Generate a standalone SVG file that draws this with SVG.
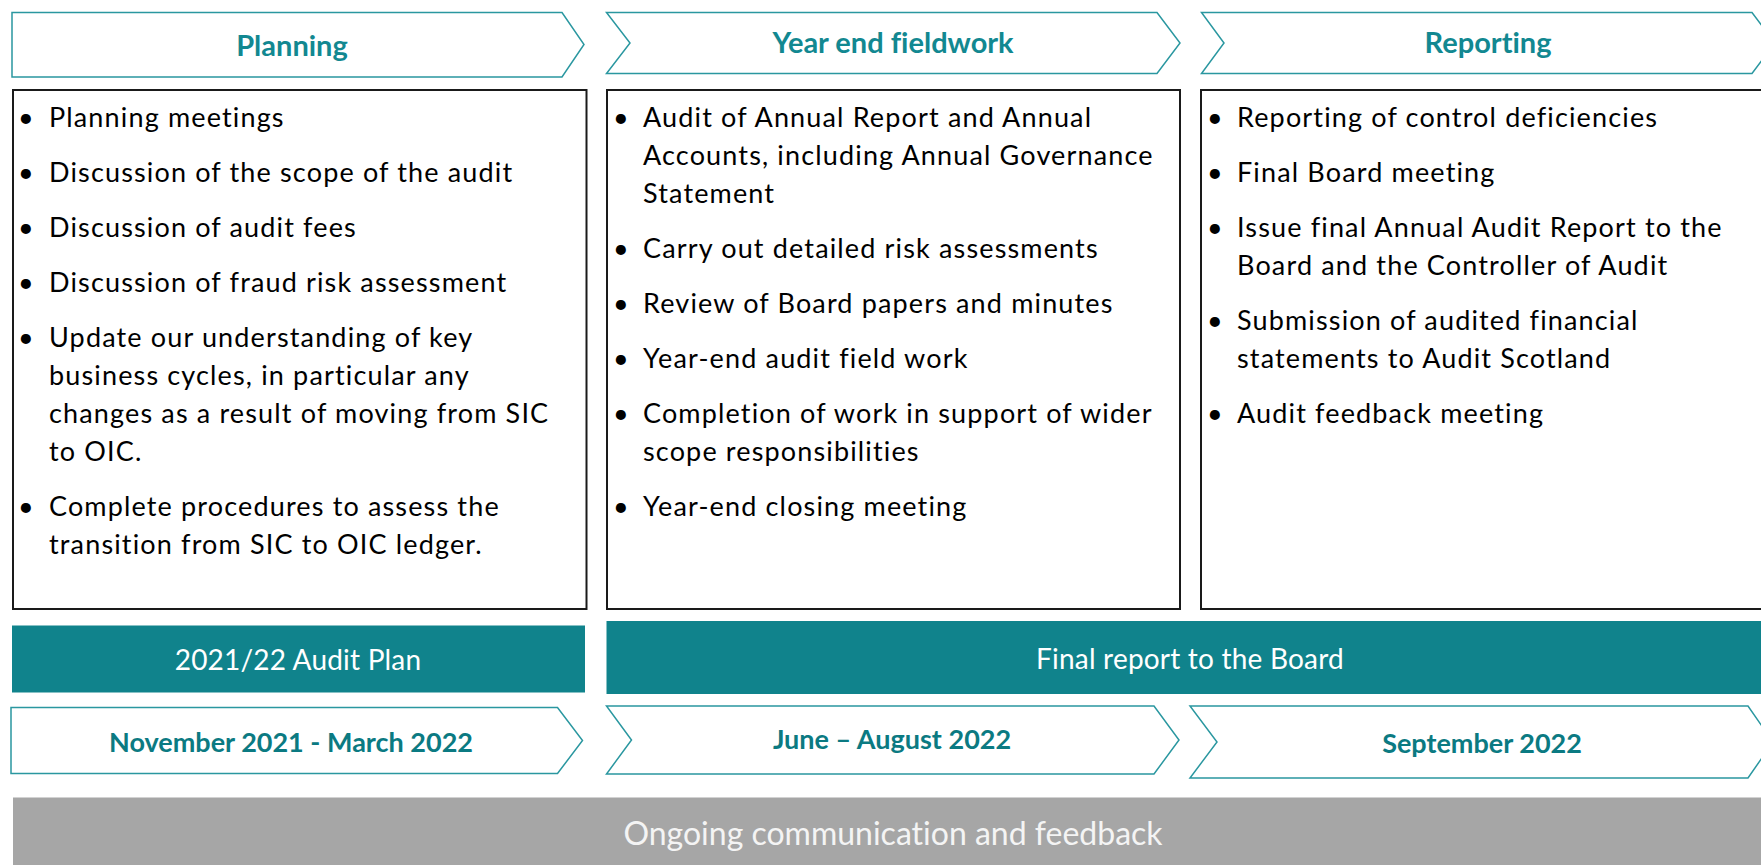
<svg xmlns="http://www.w3.org/2000/svg" width="1761" height="865" viewBox="0 0 1761 865">
<style>
text{font-variant-ligatures:none;font-feature-settings:"liga" 0}
.chev{fill:#fff;stroke:#2A97A0;stroke-width:1.5}
.box{fill:#fff;stroke:#1a1a1a;stroke-width:2}
.bar{fill:#10838C}
.gray{fill:#A6A6A6}
.head{font-family:Lato,"Liberation Sans",sans-serif;font-weight:bold;font-size:29px;fill:#128891;text-anchor:middle}
.date{font-family:Lato,"Liberation Sans",sans-serif;font-weight:bold;font-size:27px;fill:#0B7A82;text-anchor:middle}
.barl{font-family:Lato,"Liberation Sans",sans-serif;font-size:28px;letter-spacing:0.2px;fill:#fff;text-anchor:middle}
.grayl{font-family:Lato,"Liberation Sans",sans-serif;font-size:32px;fill:#F4F4F4;text-anchor:middle}
.body{font-family:Lato,"Liberation Sans",sans-serif;font-size:27px;letter-spacing:1.15px;fill:#000}
</style>
<g id="phase-planning">
<polygon class="chev" points="12,12.5 562,12.5 584,44.5 562,77 12,77"/>
<text class="head" x="292" y="56">Planning</text>
</g>
<g id="phase-fieldwork">
<polygon class="chev" points="606.5,12.5 1157,12.5 1180,43 1157,73.5 606.5,73.5 630,43"/>
<text class="head" x="893" y="53">Year end fieldwork</text>
</g>
<g id="phase-reporting">
<polygon class="chev" points="1201.5,12.5 1752,12.5 1775,43 1752,73.5 1201.5,73.5 1224,43"/>
<text class="head" x="1488" y="53">Reporting</text>
</g>
<g id="box-planning">
<rect class="box" x="13" y="90" width="573.5" height="519"/>
<g class="body">
<text x="18" y="127">•</text><text x="49" y="127">Planning meetings</text>
<text x="18" y="182">•</text><text x="49" y="182">Discussion of the scope of the audit</text>
<text x="18" y="237">•</text><text x="49" y="237">Discussion of audit fees</text>
<text x="18" y="292">•</text><text x="49" y="292">Discussion of fraud risk assessment</text>
<text x="18" y="347">•</text><text x="49" y="347">Update our understanding of key</text>
<text x="49" y="385">business cycles, in particular any</text>
<text x="49" y="423">changes as a result of moving from SIC</text>
<text x="49" y="461">to OIC.</text>
<text x="18" y="516">•</text><text x="49" y="516">Complete procedures to assess the</text>
<text x="49" y="554">transition from SIC to OIC ledger.</text>
</g>
</g>
<g id="box-fieldwork">
<rect class="box" x="607" y="90" width="573" height="519"/>
<g class="body">
<text x="613" y="127">•</text><text x="643" y="127">Audit of Annual Report and Annual</text>
<text x="643" y="165">Accounts, including Annual Governance</text>
<text x="643" y="203">Statement</text>
<text x="613" y="258">•</text><text x="643" y="258">Carry out detailed risk assessments</text>
<text x="613" y="313">•</text><text x="643" y="313">Review of Board papers and minutes</text>
<text x="613" y="368">•</text><text x="643" y="368">Year-end audit field work</text>
<text x="613" y="423">•</text><text x="643" y="423">Completion of work in support of wider</text>
<text x="643" y="461">scope responsibilities</text>
<text x="613" y="516">•</text><text x="643" y="516">Year-end closing meeting</text>
</g>
</g>
<g id="box-reporting">
<rect class="box" x="1201" y="90" width="580" height="519"/>
<g class="body">
<text x="1207" y="127">•</text><text x="1237" y="127">Reporting of control deficiencies</text>
<text x="1207" y="182">•</text><text x="1237" y="182">Final Board meeting</text>
<text x="1207" y="237">•</text><text x="1237" y="237">Issue final Annual Audit Report to the</text>
<text x="1237" y="275">Board and the Controller of Audit</text>
<text x="1207" y="330">•</text><text x="1237" y="330">Submission of audited financial</text>
<text x="1237" y="368">statements to Audit Scotland</text>
<text x="1207" y="423">•</text><text x="1237" y="423">Audit feedback meeting</text>
</g>
</g>
<g id="bar-audit-plan">
<rect class="bar" x="12" y="625.5" width="573" height="67"/>
<text class="barl" x="298" y="670">2021/22 Audit Plan</text>
</g>
<g id="bar-final-report">
<rect class="bar" x="606.5" y="621" width="1160" height="73"/>
<text class="barl" x="1190" y="669">Final report to the Board</text>
</g>
<g id="date-nov-mar">
<polygon class="chev" points="11,707.5 557.5,707.5 582.5,740.5 557.5,773.5 11,773.5"/>
<text class="date" x="291" y="751.5">November 2021 - March 2022</text>
</g>
<g id="date-jun-aug">
<polygon class="chev" points="606.5,706 1154,706 1179,740 1154,774 606.5,774 631.5,740"/>
<text class="date" x="892" y="749">June – August 2022</text>
</g>
<g id="date-sep">
<polygon class="chev" points="1190,706 1748,706 1773,742 1748,778 1190,778 1217,742"/>
<text class="date" x="1482" y="752.5">September 2022</text>
</g>
<g id="bar-ongoing">
<rect class="gray" x="13" y="797.5" width="1760" height="70"/>
<text class="grayl" x="893" y="845">Ongoing communication and feedback</text>
</g>
<g id="connectors"/>
</svg>
